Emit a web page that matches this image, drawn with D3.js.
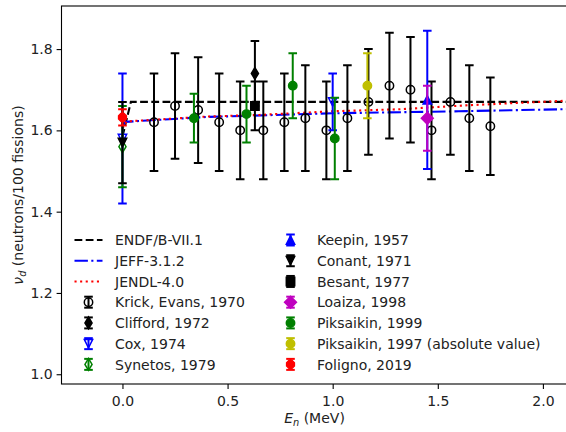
<!DOCTYPE html>
<html>
<head>
<meta charset="utf-8">
<script src="https://cdn.jsdelivr.net/npm/d3@7"></script>
<style>
  body { margin:0; background:#fff; }
  svg { font-family:"DejaVu Sans", sans-serif; }
</style>
</head>
<body>
<script>

// evaluated data (lines)
var endfE = [0, 0.04, 2.2];
var endfNu = [1.585, 1.67, 1.67];
var jeffE = [0, 0.015, 0.4, 1.0, 1.6, 2.2];
var jeffNu = [1.61, 1.621, 1.633, 1.642, 1.647, 1.653];
var jendlE = [0, 0.02, 0.4, 0.65, 1.0, 1.32, 1.65, 2.2];
var jendlNu = [1.605, 1.622, 1.634, 1.638, 1.647, 1.652, 1.662, 1.675];

// measurements
var krickE = [0.15,0.25,0.36,0.46,0.56,0.67,0.77,0.87,0.97,1.07,1.17,1.27,1.37,1.47,1.56,1.65,1.75];
var krickNu = [1.62,1.66,1.65,1.62,1.60,1.60,1.62,1.63,1.60,1.63,1.67,1.71,1.70,1.60,1.67,1.63,1.61];
var krickErr = [0.12,0.13,0.13,0.12,0.12,0.12,0.12,0.13,0.12,0.13,0.13,0.13,0.13,0.12,0.13,0.13,0.12];
var cliffordE = [0.63], cliffordNu = [1.74], cliffordErr = [0.08];
var coxE = [0, 1.0], coxNu = [1.58, 1.67], coxErr = [0.16, 0.07];
var synetosE = [0], synetosNu = [1.56], synetosErr = [0.10];
var keepinE = [1.45], keepinNu = [1.675], keepinErr = [0.17];
var conantE = [0], conantNu = [1.57], conantErr = [0.10];
var besantE = [0.63], besantNu = [1.66], besantErr = [0.06];
var loaizaE = [1.45], loaizaNu = [1.63], loaizaErr = [0.08];
var piks99E = [0.34, 0.59, 0.81, 1.01], piks99Nu = [1.63, 1.64, 1.71, 1.58], piks99Err = [0.06, 0.07, 0.08, 0.10];
var piks97E = [1.165], piks97Nu = [1.71], piks97Err = [0.08];
var folignoE = [0], folignoNu = [1.632], folignoErr = [0.02];

var xTicks = [0, 0.5, 1.0, 1.5, 2.0];
var yTicks = [1.0, 1.2, 1.4, 1.6, 1.8];

var zip = function(xs, ys, es) {
  return xs.map(function(x, i) { return {x:x, y:ys[i], e: es ? es[i] : 0}; });
};

var curves = [
  {name:"ENDF/B-VII.1", data:zip(endfE, endfNu), color:"#000000", dash:"7.8,3.4"},
  {name:"JEFF-3.1.2", data:zip(jeffE, jeffNu), color:"#0000ff", dash:"13.4,3.4,2.1,3.4"},
  {name:"JENDL-4.0", data:zip(jendlE, jendlNu), color:"#ff0000", dash:"2.1,3.5"}
];

var series = [
  {name:"Krick, Evans, 1970", data:zip(krickE,krickNu,krickErr), color:"#000000", marker:"circle", filled:false},
  {name:"Clifford, 1972", data:zip(cliffordE,cliffordNu,cliffordErr), color:"#000000", marker:"thinDiamond", filled:true},
  {name:"Cox, 1974", data:zip(coxE,coxNu,coxErr), color:"#0000ff", marker:"triDown", filled:false},
  {name:"Synetos, 1979", data:zip(synetosE,synetosNu,synetosErr), color:"#008000", marker:"thinDiamond", filled:false},
  {name:"Keepin, 1957", data:zip(keepinE,keepinNu,keepinErr), color:"#0000ff", marker:"triUp", filled:true},
  {name:"Conant, 1971", data:zip(conantE,conantNu,conantErr), color:"#000000", marker:"triDown", filled:true},
  {name:"Besant, 1977", data:zip(besantE,besantNu,besantErr), color:"#000000", marker:"square", filled:true},
  {name:"Loaiza, 1998", data:zip(loaizaE,loaizaNu,loaizaErr), color:"#bf00bf", marker:"diamond", filled:true},
  {name:"Piksaikin, 1999", data:zip(piks99E,piks99Nu,piks99Err), color:"#008000", marker:"circle", filled:true},
  {name:"Piksaikin, 1997 (absolute value)", data:zip(piks97E,piks97Nu,piks97Err), color:"#bfbf00", marker:"circle", filled:true},
  {name:"Foligno, 2019", data:zip(folignoE,folignoNu,folignoErr), color:"#ff0000", marker:"octagon", filled:true}
];

var W = 566, H = 432;
var box = {left:61.5, right:567.5, top:6, bottom:384};
var ms = 8.4, cap = 4.3;

var xScale = d3.scaleLinear().domain([-0.29, 2.117]).range([box.left, box.right]);
var yScale = d3.scaleLinear().domain([0.976, 1.906]).range([box.bottom, box.top]);

var markerPath = function(type, s) {
  var h = s/2, r = s*Math.SQRT1_2, pts;
  if (type == "circle") return d3.symbol(d3.symbolCircle, Math.PI*h*h)();
  if (type == "square") pts = [[-h,-h],[h,-h],[h,h],[-h,h]];
  if (type == "triUp") pts = [[0,-h],[-h,h],[h,h]];
  if (type == "triDown") pts = [[0,h],[-h,-h],[h,-h]];
  if (type == "diamond") pts = [[0,-r],[r,0],[0,r],[-r,0]];
  if (type == "thinDiamond") pts = [[0,-r],[0.6*r,0],[0,r],[-0.6*r,0]];
  if (type == "octagon") pts = d3.range(8).map(function(i){
    var a = Math.PI/8 + i*Math.PI/4; return [h*Math.cos(a), h*Math.sin(a)]; });
  return "M" + pts.map(function(p){return p.join(",");}).join("L") + "Z";
};

var svg = d3.select("body").append("svg")
  .attr("width", W).attr("height", H);

svg.append("defs").append("clipPath").attr("id","clip")
  .append("rect")
  .attr("x", box.left).attr("y", box.top)
  .attr("width", box.right-box.left).attr("height", box.bottom-box.top);

var plot = svg.append("g").attr("clip-path","url(#clip)");

var line = d3.line()
  .x(function(d){return xScale(d.x);})
  .y(function(d){return yScale(d.y);});

plot.selectAll("path.curve")
  .data(curves)
  .enter()
  .append("path")
  .classed("curve", true)
  .attr("d", function(d){return line(d.data);})
  .attr("fill","none")
  .attr("stroke", function(d){return d.color;})
  .attr("stroke-width", 2.1)
  .attr("stroke-dasharray", function(d){return d.dash;});

var drawErrSeries = function(g, s, pts) {
  g.selectAll("line.bar").data(pts).enter().append("line")
    .attr("x1", function(d){return d.px;}).attr("x2", function(d){return d.px;})
    .attr("y1", function(d){return d.py1;}).attr("y2", function(d){return d.py2;})
    .attr("stroke", s.color).attr("stroke-width", 2);
  var caps = [];
  pts.forEach(function(d){ caps.push({px:d.px, py:d.py1}); caps.push({px:d.px, py:d.py2}); });
  g.selectAll("line.cap").data(caps).enter().append("line")
    .attr("x1", function(d){return d.px-cap;}).attr("x2", function(d){return d.px+cap;})
    .attr("y1", function(d){return d.py;}).attr("y2", function(d){return d.py;})
    .attr("stroke", s.color).attr("stroke-width", 2);
  g.selectAll("path.mk").data(pts).enter().append("path")
    .attr("d", markerPath(s.marker, ms))
    .attr("transform", function(d){return "translate("+d.px+","+d.py+")";})
    .attr("fill", s.filled ? s.color : "none")
    .attr("stroke", s.color)
    .attr("stroke-width", 1.5);
};

series.forEach(function(s) {
  var g = plot.append("g");
  var pts = s.data.map(function(d){
    return {px:xScale(d.x), py:yScale(d.y), py1:yScale(d.y+d.e), py2:yScale(d.y-d.e)};
  });
  drawErrSeries(g, s, pts);
});

// axes
var xAxis = svg.append("g")
  .attr("transform","translate(0,"+box.bottom+")")
  .call(d3.axisBottom(xScale).tickValues(xTicks).tickFormat(d3.format(".1f"))
        .tickSize(4.9).tickPadding(7.5));
var yAxis = svg.append("g")
  .attr("transform","translate("+box.left+",0)")
  .call(d3.axisLeft(yScale).tickValues(yTicks).tickFormat(d3.format(".1f"))
        .tickSize(4.9).tickPadding(3.9));
[xAxis, yAxis].forEach(function(a){
  a.select(".domain").remove();
  a.selectAll("line").attr("stroke","#000").attr("stroke-width",1.1);
  a.selectAll("text").attr("font-size",14).attr("fill","#222")
    .attr("font-family","DejaVu Sans");
});

svg.append("rect")
  .attr("x", box.left).attr("y", box.top)
  .attr("width", box.right-box.left).attr("height", box.bottom-box.top)
  .attr("fill","none").attr("stroke","#000").attr("stroke-width",1.1);

// axis labels
var xl = svg.append("text")
  .attr("x", (box.left+box.right)/2).attr("y", 423)
  .attr("text-anchor","middle").attr("font-size",14).attr("fill","#222");
xl.append("tspan").attr("font-style","italic").text("E");
xl.append("tspan").attr("font-style","italic").attr("font-size",9.8).attr("dy",3).text("n");
xl.append("tspan").attr("dy",-3).text(" (MeV)");

var yl = svg.append("text")
  .attr("transform","translate(23,"+((box.top+box.bottom)/2)+") rotate(-90)")
  .attr("text-anchor","middle").attr("font-size",14).attr("fill","#222");
yl.append("tspan").attr("font-style","italic").text("ν");
yl.append("tspan").attr("font-style","italic").attr("font-size",9.8).attr("dy",3).text("d");
yl.append("tspan").attr("dy",-3).text(" (neutrons/100 fissions)");

// legend
var legendItems = curves.map(function(c){return {kind:"line", item:c};})
  .concat(series.map(function(s){return {kind:"err", item:s};}));
var rowY0 = 240, rowStep = 20.73, colX = [74.5, 276.5], perCol = 7;

var legend = svg.append("g").classed("legend", true);
var legendLines = legend.selectAll("g")
  .data(legendItems)
  .enter()
  .append("g")
  .attr("transform", function(d,i){
    return "translate("+colX[Math.floor(i/perCol)]+","+(rowY0 + (i%perCol)*rowStep)+")";
  });

legendLines.each(function(d){
  var g = d3.select(this);
  if (d.kind == "line") {
    g.append("line").attr("x1",0).attr("x2",28).attr("y1",0).attr("y2",0)
      .attr("stroke", d.item.color).attr("stroke-width",2.1)
      .attr("stroke-dasharray", d.item.dash);
  } else {
    drawErrSeries(g, d.item, [{px:14, py:0, py1:-5.5, py2:5.5}]);
  }
  g.append("text").attr("x", 40.5).attr("y", 5.2)
    .attr("font-size",14).attr("fill","#222")
    .text(d.item.name);
});

</script>
</body>
</html>
